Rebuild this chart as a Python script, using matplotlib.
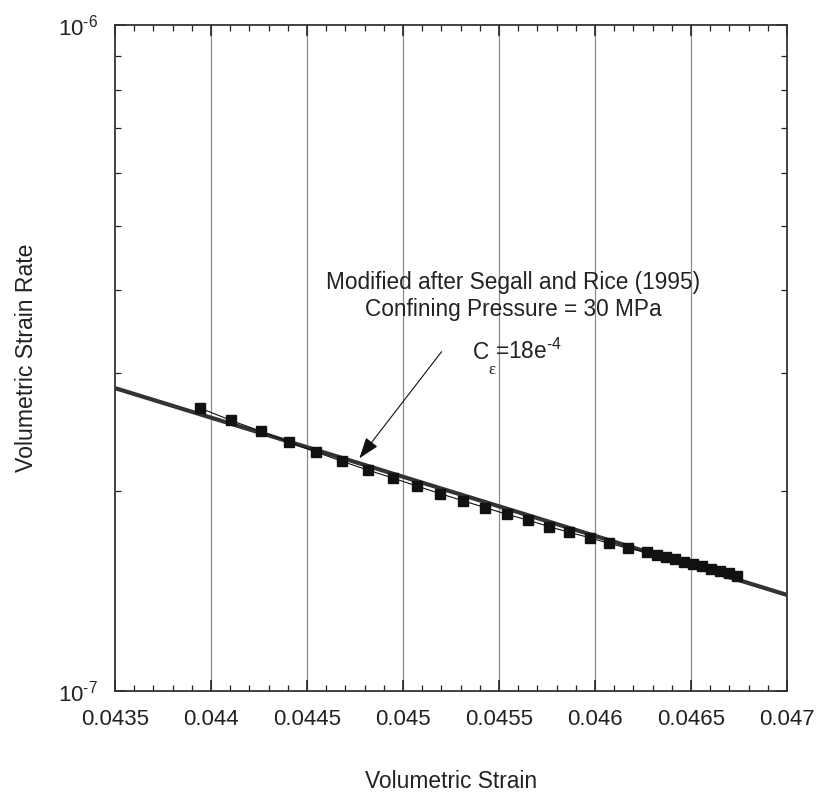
import numpy as np
import matplotlib
matplotlib.use("Agg")
import matplotlib.pyplot as plt
from matplotlib.ticker import MultipleLocator, LogLocator, NullFormatter, FixedLocator

plt.rcParams['font.family'] = ['Liberation Sans', 'DejaVu Sans']
plt.rcParams['mathtext.fontset'] = 'custom'
plt.rcParams['mathtext.rm'] = 'Liberation Sans'
plt.rcParams['mathtext.it'] = 'Liberation Sans:italic'
plt.rcParams['mathtext.sf'] = 'Liberation Sans'

# measured points (volumetric strain, volumetric strain rate)
strain = [0.043943, 0.044103, 0.044259, 0.044405, 0.044547, 0.044682,
          0.044816, 0.044946, 0.045071, 0.045193, 0.045311, 0.045429,
          0.045542, 0.045650, 0.045762, 0.045866, 0.045972, 0.046071,
          0.046172, 0.046271, 0.046321, 0.046370, 0.046418, 0.046464,
          0.046509, 0.046556, 0.046604, 0.046651, 0.046696, 0.046740]
rate = [2.66e-7, 2.55e-7, 2.455e-7, 2.365e-7, 2.285e-7, 2.213e-7,
        2.147e-7, 2.089e-7, 2.032e-7, 1.979e-7, 1.931e-7, 1.885e-7,
        1.842e-7, 1.806e-7, 1.765e-7, 1.731e-7, 1.699e-7, 1.667e-7,
        1.638e-7, 1.617e-7, 1.602e-7, 1.589e-7, 1.576e-7, 1.562e-7,
        1.551e-7, 1.541e-7, 1.526e-7, 1.514e-7, 1.504e-7, 1.490e-7]

# model curve (C_eps = 18e-4)
fit_strain = [0.0435, 0.047]
fit_rate = [2.85e-7, 1.394e-7]

xticks = [0.0435, 0.044, 0.0445, 0.045, 0.0455, 0.046, 0.0465, 0.047]
xlabels = ['0.0435', '0.044', '0.0445', '0.045', '0.0455', '0.046', '0.0465', '0.047']
yticks = [1e-7, 1e-6]
ylabels = [r'10$^{\text{-}7}$', r'10$^{\text{-}6}$']

fig = plt.figure(figsize=(8.19, 7.95), dpi=100)
ax = fig.add_axes([0.1404, 0.1308, 0.8205, 0.8377])

ax.set_yscale('log')
ax.set_xlim(0.0435, 0.047)
ax.set_ylim(1e-7, 1e-6)

# vertical grid lines at the inner major x ticks
for gx in xticks[1:-1]:
    ax.axvline(gx, color='#8c8c8c', lw=0.9, zorder=1)

ax.plot(fit_strain, fit_rate, color='#333333', lw=3.0, solid_capstyle='butt', zorder=2)
ax.plot(strain, rate, color='#111111', lw=0.8, marker='s', ms=6.5,
        mfc='#111111', mec='#111111', zorder=3)

ax.xaxis.set_major_locator(FixedLocator(xticks))
ax.set_xticklabels(xlabels)
ax.xaxis.set_minor_locator(MultipleLocator(0.0001))
ax.yaxis.set_major_locator(FixedLocator(yticks))
ax.set_yticklabels(ylabels)
ax.yaxis.set_minor_locator(LogLocator(base=10, subs=np.arange(2, 10)))
ax.yaxis.set_minor_formatter(NullFormatter())

ax.tick_params(which='both', direction='in', top=True, right=True, colors='#222222')
ax.tick_params(which='major', length=8, width=1.2, labelsize=16, pad=13)
ax.tick_params(which='minor', length=4, width=0.9)
ax.tick_params(axis='y', which='major', pad=12)

for s in ax.spines.values():
    s.set_color('#333333')
    s.set_linewidth(1.3)

ax.set_xlabel('Volumetric Strain', fontsize=16.4, color='#222222', labelpad=29)
ax.set_ylabel('Volumetric Strain Rate', fontsize=16.6, color='#222222', labelpad=14.5)

ax.text(0.593, 0.593, 'Modified after Segall and Rice (1995)\nConfining Pressure = 30 MPa',
        transform=ax.transAxes, ha='center', va='center', fontsize=16.3,
        color='#222222', linespacing=1.25, zorder=4)
# C_eps label, pieced together so the subscript sits low as in the original
ax.text(0.532, 0.4985, 'C', transform=ax.transAxes, ha='left', va='baseline',
        fontsize=16.3, color='#222222', zorder=4)
ax.text(0.561, 0.482, '\u03b5', transform=ax.transAxes, ha='center', va='center',
        fontsize=12, family='Liberation Serif', color='#222222', zorder=4)
ax.text(0.5655, 0.4985, r'=18e$^{\text{-}4}$', transform=ax.transAxes,
        ha='left', va='baseline', fontsize=16.3, color='#222222', zorder=4)

ax.annotate('', xy=(0.3636, 0.3494), xycoords='axes fraction',
            xytext=(0.486, 0.5095), textcoords='axes fraction',
            arrowprops=dict(arrowstyle='-|>,head_length=1.3,head_width=0.45',
                            lw=0.8, color='#111111', shrinkA=0, shrinkB=0))

fig.savefig('out.png', dpi=100)
